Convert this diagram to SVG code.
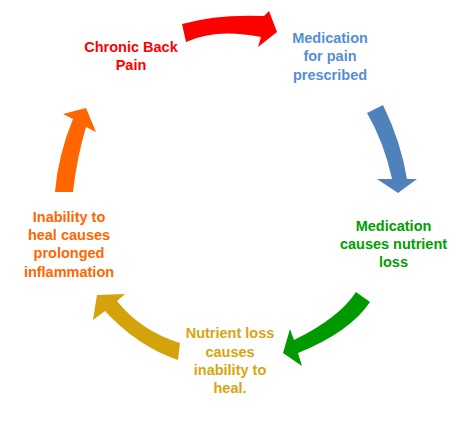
<svg xmlns="http://www.w3.org/2000/svg" width="474" height="424" viewBox="0 0 474 424">
<style>
text{font-family:"Liberation Sans",Arial,sans-serif;font-weight:bold;font-size:14.5px;text-anchor:middle}
.red{fill:#FF0000}.blue{fill:#558ED5}.green{fill:#00A000}.gold{fill:#D9A40E}.orange{fill:#FF6600}
</style>
<rect width="474" height="424" fill="#FFFFFF"/>
<g id="connectors">
<path id="a1" fill="#FF0000" d="M182,24 Q217,14 264,16 L269,11 L277,32 L258,47 L261,37 Q216,28 186,42 Z"/>
<path id="a2" fill="#4F81BD" d="M367,113 L383,105 Q401,142 407,179 L417,179 L398,193 L377,179 L392,179 Q384,142 367,113 Z"/>
<path id="a3" fill="#009900" d="M356,292 L370,302 Q350,332 298,353 L302,366 L283,353 L290,329 L294,340 Q339,318 356,292 Z"/>
<path id="a4" fill="#D4A20A" d="M180,343 Q141,331 117,301 L125,294 L97,295 L93,320 L105,311 Q137,346 178,360 Z"/>
<path id="a5" fill="#FF6600" d="M55,192 Q58,155 73,119 L63,114 L86,108 L96,132 L86,127 Q77,157 73,192 Z"/>
</g>
<g id="n1" class="red"><text x="131" y="52">Chronic Back</text><text x="131" y="70">Pain</text></g>
<g id="n2" class="blue"><text x="330" y="42.5">Medication</text><text x="330" y="61">for pain</text><text x="330" y="79.5">prescribed</text></g>
<g id="n3" class="green"><text x="393.5" y="230.7">Medication</text><text x="393.5" y="249">causes nutrient</text><text x="393.5" y="267.3">loss</text></g>
<g id="n4" class="gold"><text x="230" y="338.3">Nutrient loss</text><text x="230" y="356.7">causes</text><text x="230" y="375">inability to</text><text x="230" y="393.3">heal.</text></g>
<g id="n5" class="orange"><text x="69" y="221.7">Inability to</text><text x="69" y="240">heal causes</text><text x="69" y="258.3">prolonged</text><text x="69" y="276.7">inflammation</text></g>
</svg>
